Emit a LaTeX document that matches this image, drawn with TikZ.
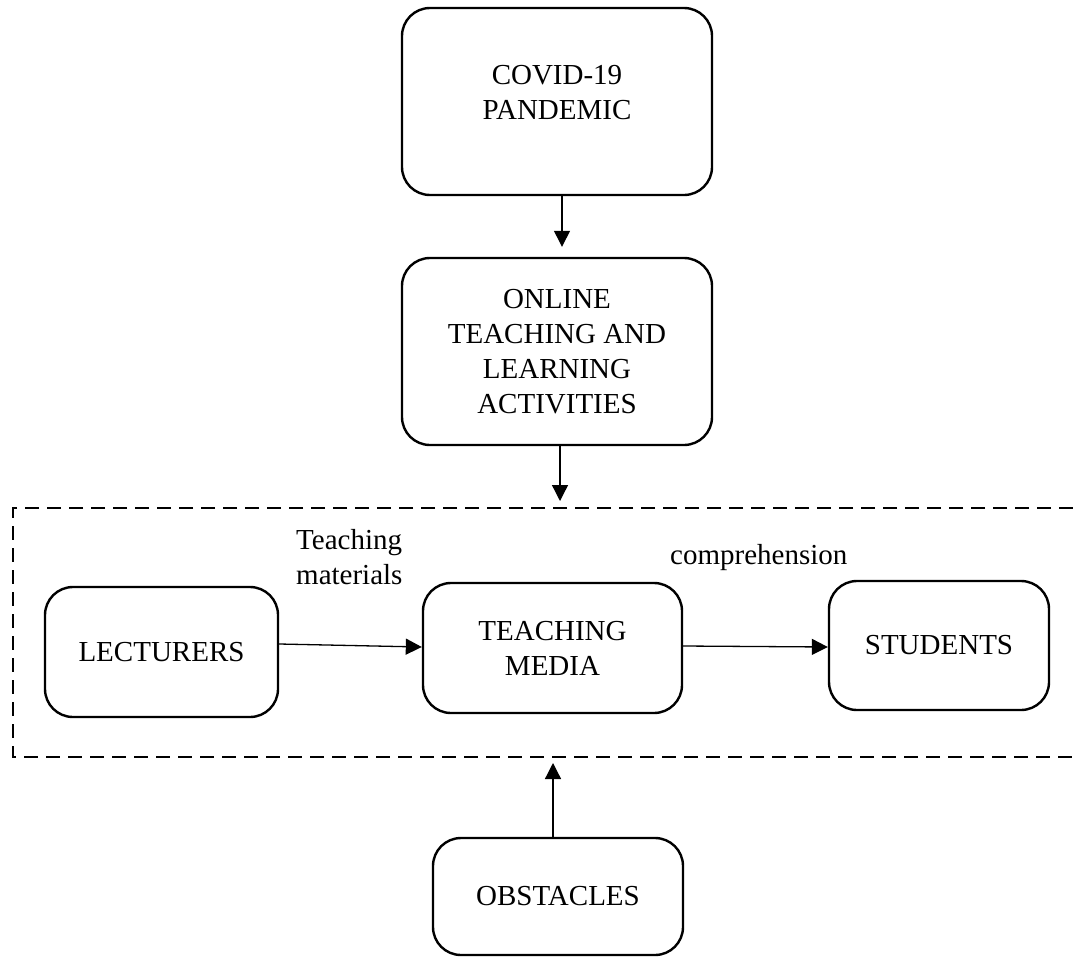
\documentclass[tikz,border=0pt]{standalone}
\usepackage{fontspec}
\setmainfont{Liberation Serif}
\usetikzlibrary{arrows.meta}
\begin{document}
\begin{tikzpicture}[x=1pt,y=-1pt,
  box/.style={draw, line width=2.4pt, rounded corners=28pt, align=center, inner sep=0pt,
    font=\fontsize{29}{35}\selectfont},
  conn/.style={-{Triangle[length=16pt,width=16pt]}, line width=1.3pt},
  lbl/.style={font=\fontsize{29}{35}\selectfont, inner sep=0pt, align=left},
  frame/.style={line width=2.4pt, dash pattern=on 14pt off 8pt}]
\useasboundingbox (0,0) rectangle (1073,958);

\node[box, minimum width=310pt, minimum height=187pt] (covid) at (557,101.5)
  {COVID-19\\PANDEMIC\\[-17pt]\mbox{}};
\node[box, minimum width=310pt, minimum height=187pt] (online) at (557,351.5)
  {ONLINE\\TEACHING AND\\LEARNING\\ACTIVITIES};
\node[box, minimum width=233pt, minimum height=130pt] (lect) at (161.5,652) {LECTURERS};
\node[box, minimum width=259pt, minimum height=130pt] (media) at (552.5,648) {TEACHING\\MEDIA};
\node[box, minimum width=220pt, minimum height=129pt] (stud) at (939,645.5) {STUDENTS};
\node[box, minimum width=250pt, minimum height=117pt] (obst) at (558,896.5) {OBSTACLES};

\node[lbl, anchor=west] (tm) at (296,557.5) {Teaching\\materials};
\node[lbl, anchor=west] (comp) at (670,558) {comprehension};

\coordinate (dtop) at (560,508);
\coordinate (dbot) at (553,757);
\draw[frame] (1073,508) -- (13,508) -- (13,757) -- (1073,757);

\draw[conn, shorten >=10pt] ([xshift=5pt]covid.south) -- ([xshift=5pt]online.north);
\draw[conn, shorten >=7pt] ([xshift=3pt]online.south) -- (dtop);
\draw[conn, shorten >=6pt] ([xshift=-5pt]obst.north) -- (dbot);
\draw[conn] ([yshift=8pt]lect.east) -- ([yshift=1pt]media.west);
\draw[conn] ([yshift=2pt]media.east) -- ([yshift=-1.5pt]stud.west);
\end{tikzpicture}
\end{document}
